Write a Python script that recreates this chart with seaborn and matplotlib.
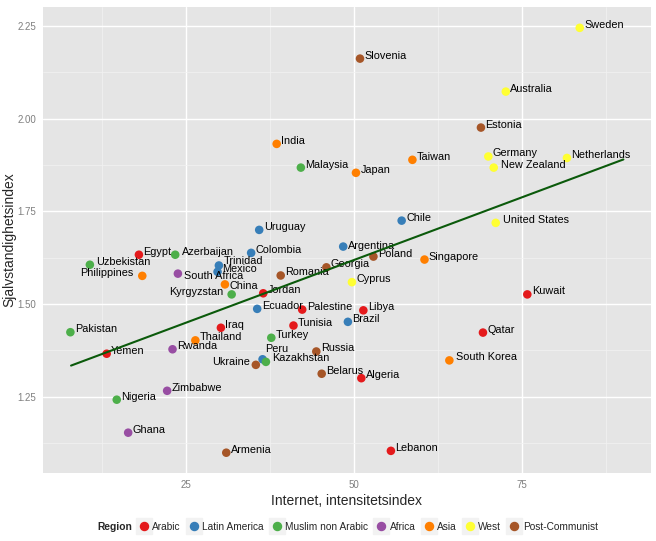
import matplotlib
matplotlib.use('Agg')
import matplotlib.pyplot as plt
from matplotlib.lines import Line2D
from matplotlib.ticker import MultipleLocator, FormatStrFormatter
import pandas as pd
import seaborn as sns

# Data
countries = ['Sweden', 'Slovenia', 'Australia', 'Estonia', 'India', 'Malaysia', 'Taiwan', 'Japan',
             'Germany', 'New Zealand', 'Netherlands', 'Chile', 'United States', 'Uruguay', 'Colombia',
             'Argentina', 'Egypt', 'Azerbaijan', 'Uzbekistan', 'Philippines', 'Trinidad', 'Mexico',
             'South Africa', 'Romania', 'Georgia', 'Poland', 'Singapore', 'Cyprus', 'China', 'Kyrgyzstan',
             'Jordan', 'Kuwait', 'Ecuador', 'Palestine', 'Libya', 'Brazil', 'Tunisia', 'Iraq', 'Qatar',
             'Pakistan', 'Thailand', 'Turkey', 'Yemen', 'Rwanda', 'South Korea', 'Peru', 'Kazakhstan',
             'Ukraine', 'Russia', 'Belarus', 'Algeria', 'Zimbabwe', 'Nigeria', 'Ghana', 'Armenia', 'Lebanon']
internet = [83.6, 50.9, 72.6, 68.9, 38.5, 42.1, 58.7, 50.3,
            70.0, 70.8, 81.7, 57.1, 71.1, 35.9, 34.7,
            48.4, 18.0, 23.4, 10.7, 18.5, 29.9, 29.7,
            23.8, 39.1, 45.9, 52.9, 60.5, 49.7, 30.8, 31.8,
            36.5, 75.8, 35.6, 42.3, 51.4, 49.1, 41.0, 30.2, 69.2,
            7.8, 26.4, 37.7, 13.2, 23.0, 64.2, 36.4, 36.9,
            35.4, 44.4, 45.2, 51.1, 22.2, 14.7, 16.4, 31.0, 55.5]
self_expression = [2.245, 2.162, 2.073, 1.976, 1.932, 1.868, 1.889, 1.854,
                   1.898, 1.868, 1.894, 1.725, 1.719, 1.700, 1.638,
                   1.655, 1.633, 1.633, 1.606, 1.576, 1.604, 1.587,
                   1.582, 1.577, 1.599, 1.628, 1.620, 1.559, 1.553, 1.526,
                   1.529, 1.526, 1.487, 1.485, 1.483, 1.452, 1.442, 1.436, 1.423,
                   1.424, 1.402, 1.409, 1.366, 1.378, 1.348, 1.351, 1.344,
                   1.336, 1.372, 1.312, 1.300, 1.266, 1.242, 1.153, 1.099, 1.104]
region = ['West', 'Post-Communist', 'West', 'Post-Communist', 'Asia', 'Muslim non Arabic', 'Asia', 'Asia',
          'West', 'West', 'West', 'Latin America', 'West', 'Latin America', 'Latin America',
          'Latin America', 'Arabic', 'Muslim non Arabic', 'Muslim non Arabic', 'Asia', 'Latin America', 'Latin America',
          'Africa', 'Post-Communist', 'Post-Communist', 'Post-Communist', 'Asia', 'West', 'Asia', 'Muslim non Arabic',
          'Arabic', 'Arabic', 'Latin America', 'Arabic', 'Arabic', 'Latin America', 'Arabic', 'Arabic', 'Arabic',
          'Muslim non Arabic', 'Asia', 'Muslim non Arabic', 'Arabic', 'Africa', 'Asia', 'Latin America', 'Muslim non Arabic',
          'Post-Communist', 'Post-Communist', 'Post-Communist', 'Arabic', 'Africa', 'Muslim non Arabic', 'Africa',
          'Post-Communist', 'Arabic']

regions = ['Arabic', 'Latin America', 'Muslim non Arabic', 'Africa', 'Asia', 'West', 'Post-Communist']
region_colors = ['#E41A1C', '#377EB8', '#4DAF4A', '#984EA3', '#FF7F00', '#FFFF33', '#A65628']

# fitted line as drawn in the reference
fit_x = [7.9, 90.1]
fit_y = [1.334, 1.890]

df = pd.DataFrame({'country': countries, 'internet': internet,
                   'selfexp': self_expression, 'Region': region})
palette = dict(zip(regions, region_colors))

# label placement tweaks (offset points, alignment)
label_nudge = {
    'Philippines': (-6.5, 0.0, 'right'),
    'Kyrgyzstan': (-5.8, -0.6, 'right'),
    'Ukraine': (-4.3, 0.0, 'right'),
    'South Africa': (4.5, -4.2, 'left'),
    'China': (3.4, -3.0, 'left'),
    'Peru': (2.2, 5.4, 'left'),
    'Kazakhstan': (4.5, 0.9, 'left'),
    'Trinidad': (3.4, 0.9, 'left'),
    'Argentina': (3.6, -1.8, 'left'),
    'Azerbaijan': (4.8, 0.0, 'left'),
    'Uzbekistan': (4.3, 0.0, 'left'),
    'United States': (5.3, 0.0, 'left'),
    'New Zealand': (5.0, 0.0, 'left'),
    'South Korea': (4.5, 0.0, 'left'),
}

sns.set_theme(style='darkgrid')
plt.rcParams['font.family'] = ['Liberation Sans', 'DejaVu Sans']

fig = plt.figure(figsize=(6.56, 5.41), dpi=100)
ax = fig.add_axes([0.0655, 0.1262, 0.9268, 0.8614])
ax.set_facecolor('#E5E5E5')

sns.scatterplot(data=df, x='internet', y='selfexp', hue='Region', hue_order=regions,
                palette=palette, s=38, linewidth=0, alpha=1, legend=False, ax=ax, zorder=3)

for _, row in df.iterrows():
    dx, dy, ha = label_nudge.get(row['country'], (3.2, 0.0, 'left'))
    ax.annotate(row['country'], (row['internet'], row['selfexp']), xytext=(dx, dy),
                textcoords='offset points', ha=ha, va='baseline', fontsize=7.8,
                color='black', zorder=4)

sns.lineplot(x=fit_x, y=fit_y, color='#0B5A0B', linewidth=1.5, ax=ax, zorder=5)

ax.set_xlim(3.72, 94.2)
ax.set_ylim(1.045, 2.302)
ax.xaxis.set_major_locator(MultipleLocator(25))
ax.xaxis.set_minor_locator(MultipleLocator(12.5))
ax.yaxis.set_major_locator(MultipleLocator(0.25))
ax.yaxis.set_minor_locator(MultipleLocator(0.125))
ax.yaxis.set_major_formatter(FormatStrFormatter('%.2f'))
ax.grid(which='major', color='white', linewidth=1.0)
ax.grid(which='minor', color='#F2F2F2', linewidth=0.5)
ax.set_axisbelow(True)
for s in ax.spines.values():
    s.set_visible(False)
ax.tick_params(axis='both', which='major', length=3, width=0.6, color='#7F7F7F',
               labelcolor='#7F7F7F', labelsize=7, pad=2)
ax.tick_params(axis='both', which='minor', length=0)

ax.set_xlabel('Internet, intensitetsindex', fontsize=10, labelpad=3)
ax.set_ylabel('Sjalvstandighetsindex', fontsize=10)
ax.yaxis.set_label_coords(-0.044, 0.5)

# legend at the bottom with grey key boxes
handles = []
for c in region_colors:
    bg = Line2D([], [], marker='s', markersize=12, color='#F2F2F2', linestyle='none')
    dot = Line2D([], [], marker='o', markersize=5.8, color=c, linestyle='none')
    handles.append((bg, dot))
fig.text(97 / 656, 1 - 527 / 541, 'Region', fontsize=7.4, fontweight='bold', ha='left', va='center')
fig.legend(handles, regions, loc='center left', bbox_to_anchor=(138 / 656, 1 - 527 / 541),
           ncol=7, frameon=False, fontsize=7.3, handlelength=1.1, handletextpad=0.3,
           columnspacing=0.72, borderpad=0, borderaxespad=0)

fig.savefig('out.png', dpi=100)
